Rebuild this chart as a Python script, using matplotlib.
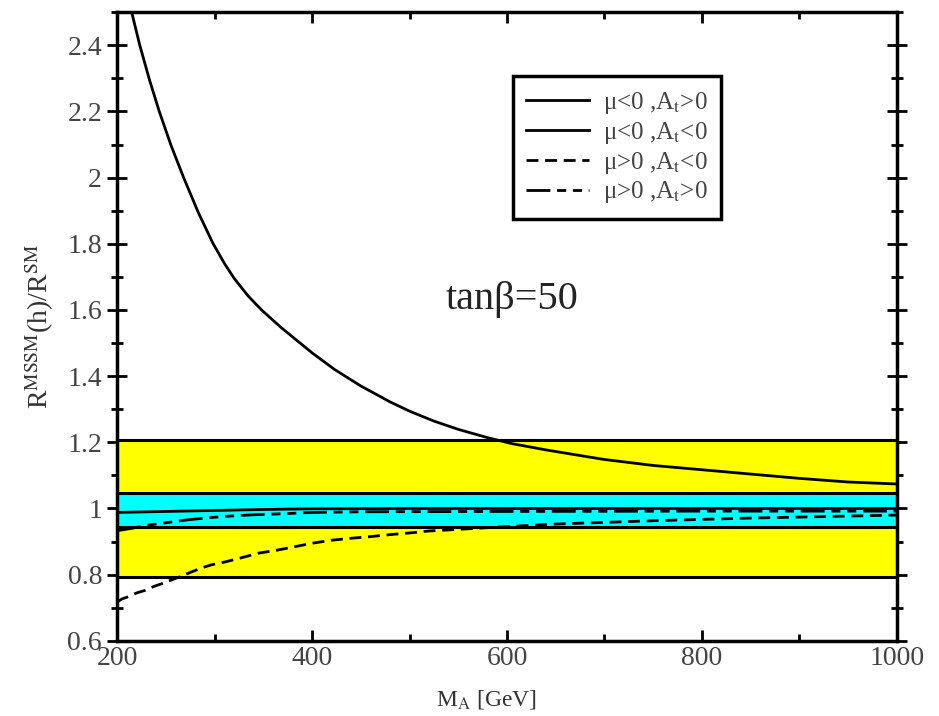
import numpy as np
import matplotlib
matplotlib.use("Agg")
import matplotlib.pyplot as plt
from matplotlib.ticker import MultipleLocator, FormatStrFormatter

plt.rcParams['font.family'] = ['Liberation Serif', 'DejaVu Serif']
plt.rcParams['mathtext.fontset'] = 'stix'

# mu<0, At>0 (big solid curve)
m_a = [213, 223, 233, 243, 255, 268, 283, 298, 310, 320, 334, 348, 368, 400, 423, 450, 480, 500,
       525, 550, 580, 605, 640, 675, 700, 750, 800, 850, 900, 950, 1000]
r_a = [2.52, 2.40, 2.295, 2.20, 2.098, 2.00, 1.895, 1.802, 1.74, 1.695, 1.643, 1.60, 1.547, 1.47, 1.42, 1.37, 1.322, 1.294,
       1.264, 1.239, 1.214, 1.196, 1.177, 1.16, 1.148, 1.13, 1.117, 1.104, 1.091, 1.08, 1.074]

# mu<0, At<0 (solid, near 1)
m_b = [200, 250, 300, 350, 400, 500, 600, 800, 1000]
r_b = [0.988, 0.991, 0.994, 0.997, 0.999, 1.0, 1.0, 1.0, 1.0]

# mu>0, At<0 (dashed)
m_c = [200, 205, 210, 220, 228, 238, 245, 268, 275, 288, 297, 310, 326, 345, 364, 383,
       400, 420, 440, 460, 480, 500, 520, 545, 580, 610, 650, 700, 750, 800, 850, 900, 950, 1000]
r_c = [0.718, 0.727, 0.732, 0.745, 0.752, 0.765, 0.772, 0.798, 0.807, 0.822, 0.83, 0.838, 0.85, 0.865, 0.874, 0.885,
       0.895, 0.904, 0.91, 0.915, 0.921, 0.926, 0.932, 0.936, 0.942, 0.947, 0.953, 0.958, 0.963, 0.967, 0.971, 0.974, 0.977, 0.98]

# mu>0, At>0 (dash-dot)
m_d = [200, 215, 230, 250, 270, 290, 310, 340, 370, 400, 450, 600, 800, 1000]
r_d = [0.933, 0.94, 0.949, 0.957, 0.965, 0.971, 0.976, 0.981, 0.984, 0.988, 0.99, 0.991, 0.992, 0.992]

labels = [r'μ<0 ,A$_\mathrm{t}$>0', r'μ<0 ,A$_\mathrm{t}$<0', r'μ>0 ,A$_\mathrm{t}$<0', r'μ>0 ,A$_\mathrm{t}$>0']

band_outer = [0.792, 1.207]
band_inner = [0.943, 1.048]

fig = plt.figure(figsize=(9.39, 7.16), dpi=100)
ax = fig.add_axes([0.125, 0.105, 0.830, 0.878])
ax.set_axisbelow(True)

ax.axhspan(band_outer[0], band_outer[1], color='#ffff00', lw=0, zorder=1)
ax.axhspan(band_inner[0], band_inner[1], color='#00ffff', lw=0, zorder=1.1)
for v in band_outer + band_inner:
    ax.axhline(v, color='black', lw=2.2, zorder=1.2)

ax.plot(m_a, r_a, color='black', lw=2.0, label=labels[0], zorder=3)
ax.plot(m_b, r_b, color='black', lw=2.0, label=labels[1], zorder=3)
ax.plot(m_c, r_c, color='black', lw=2.0, ls=(0, (4.3, 2.4)), label=labels[2], zorder=3)
ax.plot(m_d, r_d, color='black', lw=2.0, ls=(0, (8.6, 2.4, 3.3, 2.4, 3.3, 2.4)), label=labels[3], zorder=3)

ax.set_xlim(200, 1000)
ax.set_ylim(0.6, 2.5)
ax.xaxis.set_major_locator(MultipleLocator(200))
ax.xaxis.set_minor_locator(MultipleLocator(100))
ax.yaxis.set_major_locator(MultipleLocator(0.2))
ax.yaxis.set_minor_locator(MultipleLocator(0.1))
ax.yaxis.set_major_formatter(FormatStrFormatter('%g'))

ax.tick_params(axis='x', which='both', direction='in', top=True, bottom=True, width=2, colors='black',
               labelcolor='#444444', labelsize=20, pad=4)
ax.tick_params(axis='x', which='major', length=8)
ax.tick_params(axis='x', which='minor', length=5)
ax.tick_params(axis='y', which='both', direction='inout', left=True, right=True, width=2,
               labelcolor='#444444', labelsize=20, pad=4)
ax.tick_params(axis='y', which='major', length=14)
ax.tick_params(axis='y', which='minor', length=9)
for s in ax.spines.values():
    s.set_linewidth(2.5)
    s.set_zorder(4)

ax.set_xlabel(r'M$_\mathrm{A}$ [GeV]', fontsize=17, color='#333333', labelpad=6)
ax.xaxis.set_label_coords(0.474, -0.075)
ax.set_ylabel(r'R$^\mathrm{MSSM}$(h)/R$^\mathrm{SM}$', fontsize=20, color='#333333', labelpad=8)

ax.text(605, 1.633, 'tanβ=50', fontsize=29, ha='center', va='center', color='#222222')

leg = ax.legend(loc='upper left', bbox_to_anchor=(0.507, 0.898), borderaxespad=0,
                fontsize=18, handlelength=2.5, handletextpad=0.55, labelspacing=0.15,
                fancybox=False, framealpha=1, edgecolor='black', borderpad=0.55)
leg.get_frame().set_linewidth(2.5)
for t in leg.get_texts():
    t.set_color('#444444')

fig.savefig('out.png', dpi=100)
